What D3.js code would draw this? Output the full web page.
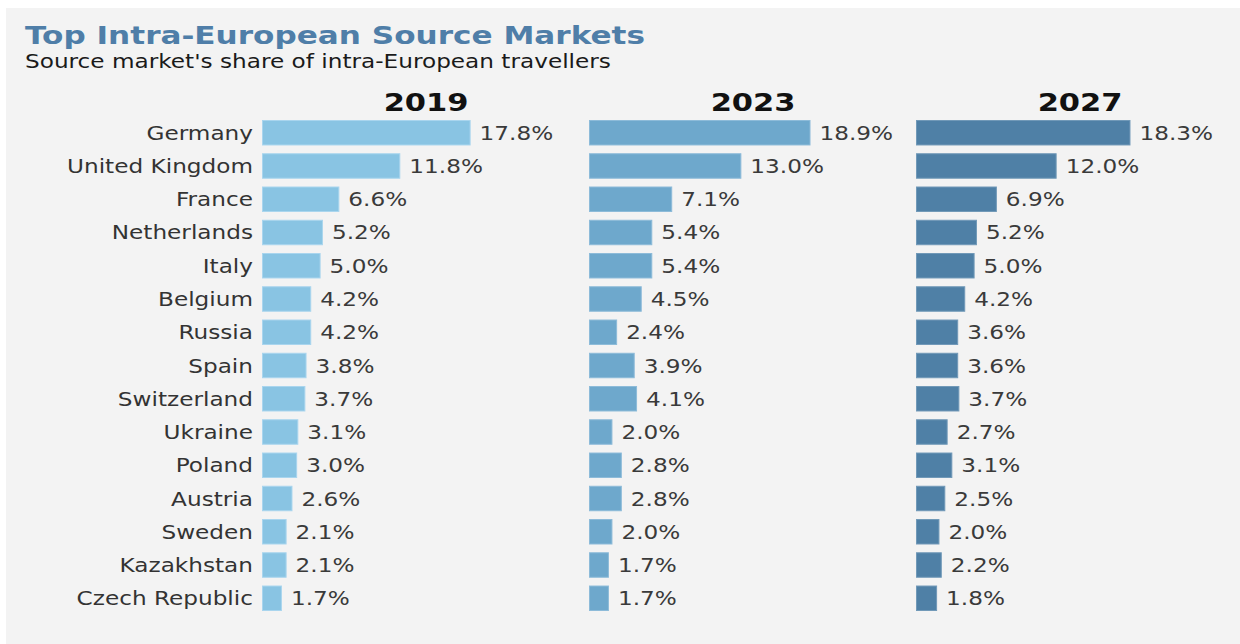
<!DOCTYPE html>
<html>
<head>
<meta charset="utf-8">
<style>
    body { margin: 0; background: #fff; }
    text { font-family: Verdana, "DejaVu Sans", sans-serif; }
</style>
</head>
<body>
<svg width="1240" height="644"></svg>
<script src="https://d3js.org/d3.v7.min.js"></script>
<script>

    var countries = ["Germany", "United Kingdom", "France", "Netherlands", "Italy", "Belgium", "Russia",
        "Spain", "Switzerland", "Ukraine", "Poland", "Austria", "Sweden", "Kazakhstan", "Czech Republic"];
    var years = ["2019", "2023", "2027"];
    var v2019 = [17.8, 11.8, 6.6, 5.2, 5.0, 4.2, 4.2, 3.8, 3.7, 3.1, 3.0, 2.6, 2.1, 2.1, 1.7];
    var v2023 = [18.9, 13.0, 7.1, 5.4, 5.4, 4.5, 2.4, 3.9, 4.1, 2.0, 2.8, 2.8, 2.0, 1.7, 1.7];
    var v2027 = [18.3, 12.0, 6.9, 5.2, 5.0, 4.2, 3.6, 3.6, 3.7, 2.7, 3.1, 2.5, 2.0, 2.2, 1.8];
    var series = [v2019, v2023, v2027];

    var colors = ["#89c4e3", "#6ea8cc", "#4f80a6"],
        strokes = ["#a9d5ee", "#8dbbd9", "#7199b8"];

    var svg = d3.select("svg"),
        width = +svg.attr("width"),
        height = +svg.attr("height");

    // text in the original is drawn wider than usual
    var sx = 1.22;

    svg.append("rect")
        .attr("x", 6).attr("y", 8)
        .attr("width", width - 6).attr("height", height - 8)
        .attr("fill", "#f3f3f3");

    function label(g, x, y, str) {
        return g.append("text")
            .attr("transform", "translate(" + x + "," + y + ") scale(" + sx + ",1)")
            .text(str);
    }

    label(svg, 25, 44, "Top Intra-European Source Markets")
        .attr("font-size", 25.5)
        .attr("font-weight", "bold")
        .attr("fill", "#4f7ea8");

    label(svg, 25, 68, "Source market's share of intra-European travellers")
        .attr("font-size", 19)
        .attr("fill", "#1a1a1a");

    var y = d3.scaleBand()
        .domain(countries)
        .range([120, 611])
        .paddingInner(0.234)
        .paddingOuter(0);

    var x = d3.scaleLinear()
        .domain([0, 20])
        .range([0, 234.4]);

    var panelX = [262, 589, 916];

    // country names
    var names = svg.append("g")
        .attr("font-size", 19)
        .attr("fill", "#333")
        .attr("text-anchor", "end");
    countries.forEach(function (c) {
        label(names, 253, y(c) + y.bandwidth() / 2 + 7, c);
    });

    years.forEach(function (yr, k) {
        var g = svg.append("g")
            .attr("transform", "translate(" + panelX[k] + ",0)");

        label(g, x(14), 111, yr)
            .attr("font-size", 25)
            .attr("font-weight", "bold")
            .attr("fill", "#111")
            .attr("text-anchor", "middle");

        g.selectAll("rect")
            .data(series[k])
            .enter().append("rect")
            .attr("x", 0.5)
            .attr("y", function (d, i) { return y(countries[i]) + 0.5; })
            .attr("width", function (d) { return x(d) - 1; })
            .attr("height", y.bandwidth() - 1)
            .attr("fill", colors[k])
            .attr("stroke", strokes[k])
            .attr("stroke-width", 1);

        var vals = g.append("g")
            .attr("font-size", 19)
            .attr("fill", "#3a3a3a");
        series[k].forEach(function (d, i) {
            label(vals, x(d) + 9, y(countries[i]) + y.bandwidth() / 2 + 7, d.toFixed(1) + "%");
        });
    });

</script>
</body>
</html>
